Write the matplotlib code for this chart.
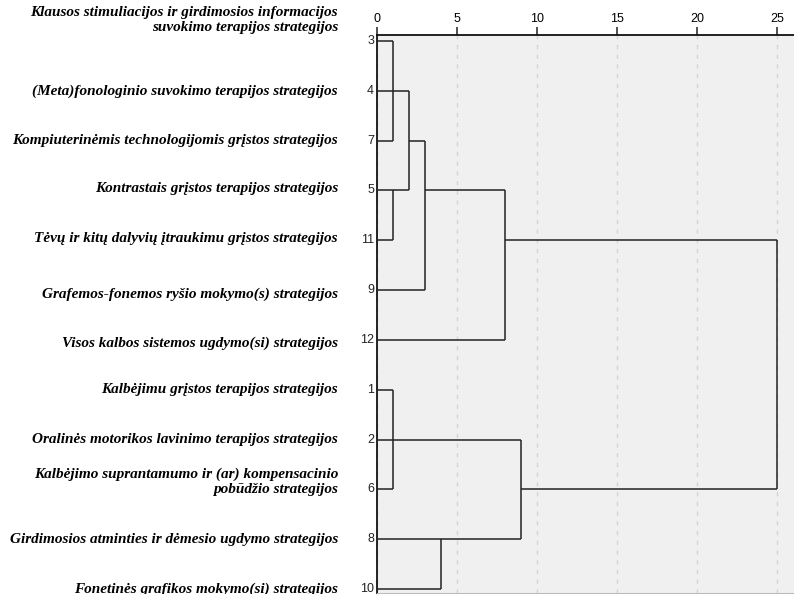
import matplotlib
matplotlib.use("Agg")
import matplotlib.pyplot as plt
from matplotlib.transforms import offset_copy

# leaves, top to bottom, as SPSS orders them in the dendrogram
case_numbers = [3, 4, 7, 5, 11, 9, 12, 1, 2, 6, 8, 10]
strategy_labels = [
    "Klausos stimuliacijos ir girdimosios informacijos\nsuvokimo terapijos strategijos",
    "(Meta)fonologinio suvokimo terapijos strategijos",
    "Kompiuterinėmis technologijomis grįstos strategijos",
    "Kontrastais grįstos terapijos strategijos",
    "Tėvų ir kitų dalyvių įtraukimu grįstos strategijos",
    "Grafemos-fonemos ryšio mokymo(s) strategijos",
    "Visos kalbos sistemos ugdymo(si) strategijos",
    "Kalbėjimu grįstos terapijos strategijos",
    "Oralinės motorikos lavinimo terapijos strategijos",
    "Kalbėjimo suprantamumo ir (ar) kompensacinio\npobūdžio strategijos",
    "Girdimosios atminties ir dėmesio ugdymo strategijos",
    "Fonetinės grafikos mokymo(si) strategijos",
]

# agglomeration schedule: cluster 1, cluster 2, rescaled distance
stage_cluster1 = [3, 3, 5, 3, 3, 3, 1, 1, 8, 1, 1]
stage_cluster2 = [7, 4, 11, 5, 9, 12, 6, 2, 10, 8, 3]
stage_distance = [1, 1, 1, 2, 3, 8, 1, 1, 4, 9, 25]

# vertical nudge of the text labels (pixels, + is up)
label_nudge = [21, 0, 0, 2, 2, -4, -3, 0, 0, 8, 0, 0]

line_col = "#222222"

fig = plt.figure(figsize=(7.94, 5.94), dpi=100)
ax = fig.add_axes([377 / 794, 1 / 594, 417 / 794, 558 / 594])
ax.set_facecolor("#f0f0f0")

# row position and current height of every cluster
row = {c: i for i, c in enumerate(case_numbers)}
height = {c: 0 for c in case_numbers}

for a, b, d in zip(stage_cluster1, stage_cluster2, stage_distance):
    ya, yb = row[a], row[b]
    ax.hlines([ya, yb], [height[a], height[b]], d, color=line_col, lw=1.1, zorder=3)
    ax.vlines(d, min(ya, yb), max(ya, yb), color=line_col, lw=1.1, zorder=3)
    row[a] = (ya + yb) // 2
    height[a] = d

ax.set_xlim(0, 417 / 16)
ax.set_ylim(len(case_numbers) - 1 + 4 / 49.8, -6 / 49.8)

ax.xaxis.tick_top()
ax.set_xticks([0, 5, 10, 15, 20, 25])
ax.tick_params(axis="x", direction="out", length=5.5, width=1.1, pad=2,
               labelsize=9, color="#222222")
for lab in ax.get_xticklabels():
    lab.set_family("Liberation Sans")
ax.grid(axis="x", color="#d4d4d4", ls=(0, (3, 4)), lw=1.0, zorder=1)
ax.set_yticks([])

ax.spines["left"].set_color("#111111")
ax.spines["left"].set_linewidth(1.3)
ax.spines["top"].set_color("#111111")
ax.spines["top"].set_linewidth(1.3)
ax.spines["right"].set_visible(False)
ax.spines["bottom"].set_color("#bbbbbb")

# case numbers next to the axis
num_tr = offset_copy(ax.get_yaxis_transform(), fig=fig, x=-3, y=0, units="dots")
for i, n in enumerate(case_numbers):
    ax.text(0, i, str(n), transform=num_tr, ha="right", va="center",
            fontsize=9, family="Liberation Sans", color="#222222")

# strategy names on the left
for i, (txt, dy) in enumerate(zip(strategy_labels, label_nudge)):
    tr = offset_copy(ax.get_yaxis_transform(), fig=fig, x=-39, y=dy, units="dots")
    ax.text(0, i, txt, transform=tr, ha="right", va="center", multialignment="right",
            fontsize=11, family="Liberation Serif", style="italic", weight="bold",
            linespacing=1.2, clip_on=False)

fig.savefig("out.png", dpi=100)
